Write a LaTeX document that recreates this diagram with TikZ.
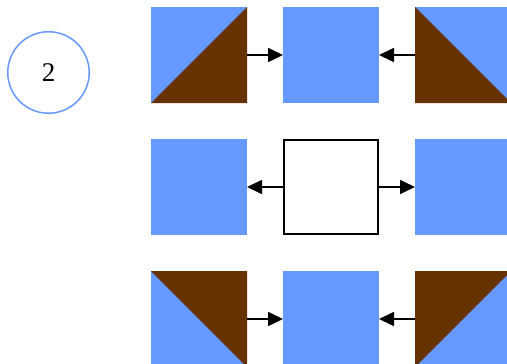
\documentclass[tikz,border=0pt]{standalone}
\usepackage{fontspec}
\setmainfont{Liberation Serif}
\usetikzlibrary{arrows.meta}
\definecolor{sqblue}{HTML}{6699FF}
\definecolor{sqbrown}{HTML}{663300}
\begin{document}
\begin{tikzpicture}[x=1pt,y=-1pt,
  tile/.style={minimum size=96pt, inner sep=0pt, outer sep=0pt, fill=sqblue},
  whitebox/.style={minimum size=94.2pt, inner sep=0pt, draw=black, line width=1.8pt, fill=white},
  conn/.style={line width=1.7pt, -{Triangle[length=15pt,width=14pt]}},
  brown/.style={fill=sqbrown},
  badge/.style={circle, draw=sqblue, line width=1.5pt, minimum size=81.5pt, inner sep=0pt, font=\fontsize{27}{32}\selectfont}]
\useasboundingbox (0,0) rectangle (507,364);
\node[badge] (b) at (48.5,72.5) {2};
% row 1
\node[tile] (a1) at (199,55) {};
\node[tile] (a2) at (331,55) {};
\node[tile] (a3) at (463,55) {};
\fill[brown] (a1.south west) -- (a1.south east) -- (a1.north east) -- cycle;
\fill[brown] (a3.north west) -- (a3.south east) -- (a3.south west) -- cycle;
% row 2
\node[tile] (m1) at (199,187) {};
\node[whitebox] (m2) at (331,187) {};
\node[tile] (m3) at (463,187) {};
% row 3
\node[tile] (c1) at (199,319) {};
\node[tile] (c2) at (331,319) {};
\node[tile] (c3) at (463,319) {};
\fill[brown] (c1.north west) -- (c1.north east) -- (c1.south east) -- cycle;
\fill[brown] (c3.north west) -- (c3.north east) -- (c3.south west) -- cycle;
% connectors
\draw[conn] (a1) -- (a2);
\draw[conn] (a3) -- (a2);
\draw[conn] (m2) -- (m1);
\draw[conn] (m2) -- (m3);
\draw[conn] (c1) -- (c2);
\draw[conn] (c3) -- (c2);
\end{tikzpicture}
\end{document}
